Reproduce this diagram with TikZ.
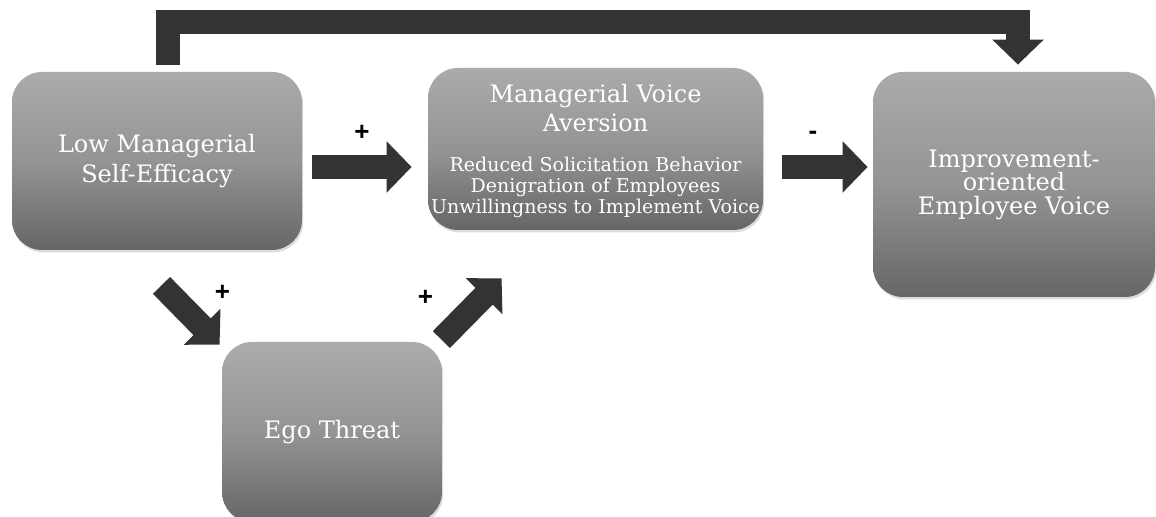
\documentclass[tikz,border=0pt]{standalone}
\usepackage{fontspec}
\setmainfont{DejaVu Serif}
\newfontfamily\signfont{Liberation Sans}
\usetikzlibrary{arrows.meta,positioning,shadows}
\definecolor{boxtop}{gray}{0.67}
\definecolor{boxmid}{gray}{0.58}
\definecolor{boxbot}{gray}{0.40}
\definecolor{arrowgray}{gray}{0.2}

\begin{document}
\begin{tikzpicture}[
  x=0.5pt, y=0.5pt,
  box/.style={rounded corners=15pt, top color=boxtop, bottom color=boxbot,
              middle color=boxmid, text=white, align=center, inner sep=0pt,
              font=\fontsize{12}{14.75}\selectfont,
              drop shadow={shadow xshift=0.6pt, shadow yshift=-1.2pt,
                           opacity=0.45, fill=gray!60}},
  boxtext/.style={text=white, align=center, inner sep=0pt},
  flow/.style={draw=arrowgray, line width=12pt,
               -{Triangle[length=12.5pt, width=25pt]}},
  sign/.style={font=\signfont\bfseries\fontsize{13}{13}\selectfont,
               text=black, inner sep=0pt}
]
\useasboundingbox (0,0) rectangle (1156,517);
\clip (0,0) rectangle (1156,517);
\node[box, minimum width=145pt, minimum height=89pt] (lowmse) at (157,356)
  {Low Managerial\\Self-Efficacy};
\node[box, minimum width=167.5pt, minimum height=81pt] (aversion) at (595.5,368) {};
\node[boxtext, font=\fontsize{12}{14.5}\selectfont] (aversiontitle) at (595.5,408.5)
  {Managerial Voice\\Aversion};
\node[boxtext, font=\fontsize{9.5}{10.3}\selectfont] (aversionlist) at (595.5,329.5)
  {Reduced Solicitation Behavior\\Denigration of Employees\\Unwillingness to Implement Voice};
\node[box, minimum width=141pt, minimum height=112.5pt,
      font=\fontsize{12}{11.75}\selectfont] (voice) at (1014,332.5)
  {Improvement-\\oriented\\Employee Voice};
\node[box, minimum width=110pt, minimum height=90pt] (ego) at (332,85) {Ego Threat};
\draw[flow] ([shift={(10,-6)}]lowmse.east) -- ([shift={(-16,-18)}]aversion.west)
  node[sign, midway, yshift=17pt] {+};
\draw[flow] ([shift={(19,-18)}]aversion.east) -- ([shift={(-5,17.5)}]voice.west)
  node[sign, midway, xshift=-6pt, yshift=16pt] {-};
\draw[flow] ([shift={(11,7)}]lowmse.north) -- ++(0,42.5) -| ([shift={(4,7)}]voice.north);
\draw[flow] ([shift={(4.5,-35)}]lowmse.south) -- ([shift={(-2,-3)}]ego.north west)
  node[sign, midway, xshift=16pt, yshift=11pt] {+};
\draw[flow] ([shift={(-1,2)}]ego.north east) -- ([shift={(74,-48)}]aversion.south west)
  node[sign, midway, xshift=-23pt, yshift=5.5pt] {+};
\end{tikzpicture}
\end{document}
